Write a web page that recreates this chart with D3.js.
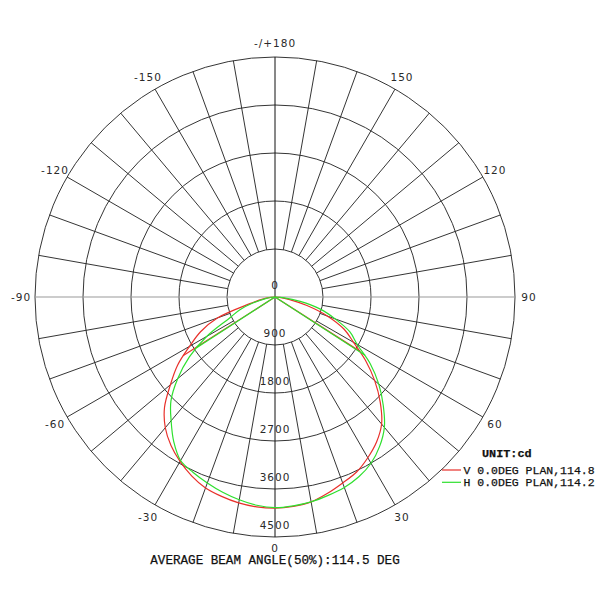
<!DOCTYPE html>
<html>
<head>
<meta charset="utf-8">
<script src="https://cdn.jsdelivr.net/npm/d3@7"></script>
<style>
  body { margin: 0; background: #fff; }
  svg { display: block; }
  .lbl { font-family: "DejaVu Sans", sans-serif; font-size: 10.5px; letter-spacing: 1px; fill: #2a2a2a; }
  .mono { font-family: "Liberation Mono", "DejaVu Sans Mono", monospace; fill: #111; stroke: #111; stroke-width: 0.25px; }
</style>
</head>
<body>
<div id="chart"></div>
<script>
// gamma angles (deg), 0 = straight down
const angles = [-90,-85,-80,-75,-70,-65,-60,-55,-50,-45,-40,-35,-30,-25,-20,-15,-10,-5,0,
                5,10,15,20,25,30,35,40,45,50,55,60,65,70,75,80,85,90];
// V 0.0DEG PLAN (cd)
const vValues = [0,80,250,500,1150,1540,1850,2230,2560,2930,3200,3400,3560,3700,3810,3870,3920,3950,3960,
                 3940,3900,3810,3710,3620,3480,3320,3110,2790,2440,2070,1700,1430,1050,620,280,90,0];
// H 0.0DEG PLAN (cd)
const hValues = [0,60,180,420,700,950,1480,1960,2380,2760,3030,3310,3540,3630,3710,3790,3860,3920,3950,
                 3930,3900,3850,3800,3720,3600,3420,3190,2870,2540,2180,1780,1550,1200,880,480,150,0];
const beamAngles = [114.8, 114.2];
const seriesNames = ["V 0.0DEG PLAN,114.8", "H 0.0DEG PLAN,114.2"];
const seriesColors = ["#e8302a", "#2ee02e"];
const ringValues = [0, 900, 1800, 2700, 3600, 4500];
const angleTicks = [-150,-120,-90,-60,-30,0,30,60,90,120,150,180];
const spokeAngles = d3.range(-170, 180, 10).filter(a => a % 90 !== 0);

const width = 600, height = 600;
const cx = 275, cy = 297;

const r = d3.scaleLinear().domain([0, 4500]).range([0, 240]);
const rad = d => d * Math.PI / 180;
// x = cx + r sin(t), y = cy + r cos(t)
const px = (a, v) => cx + r(v) * Math.sin(rad(a));
const py = (a, v) => cy + r(v) * Math.cos(rad(a));

const svg = d3.select("#chart").append("svg")
    .attr("width", width)
    .attr("height", height);

const grid = svg.append("g");

// rings
grid.selectAll(".ring")
    .data(ringValues.slice(1))
    .enter()
    .append("circle")
    .attr("cx", cx)
    .attr("cy", cy)
    .attr("r", d => r(d))
    .attr("fill", "none")
    .attr("stroke", "#2a2a2a")
    .attr("stroke-width", 0.95);

// spokes from first ring to the outer one
grid.selectAll(".spoke")
    .data(spokeAngles)
    .enter()
    .append("line")
    .attr("x1", d => px(d, 900))
    .attr("y1", d => py(d, 900))
    .attr("x2", d => px(d, 4500))
    .attr("y2", d => py(d, 4500))
    .attr("stroke", "#2a2a2a")
    .attr("stroke-width", 0.95);

// main axes
grid.append("line")
    .attr("x1", px(-90, 4500)).attr("y1", cy)
    .attr("x2", px(90, 4500)).attr("y2", cy)
    .attr("stroke", "#999")
    .attr("stroke-width", 1.2);
grid.append("line")
    .attr("x1", cx).attr("y1", py(180, 4500))
    .attr("x2", cx).attr("y2", py(0, 4500))
    .attr("stroke", "#111")
    .attr("stroke-width", 1);

// ring value labels
grid.selectAll(".rlbl")
    .data(ringValues)
    .enter()
    .append("text")
    .attr("class", "lbl")
    .attr("x", cx)
    .attr("y", d => cy + r(d) - 12.5)
    .attr("text-anchor", "middle")
    .attr("dominant-baseline", "central")
    .text(d => d);

// angle labels
grid.selectAll(".albl")
    .data(angleTicks)
    .enter()
    .append("text")
    .attr("class", "lbl")
    .attr("x", d => cx + 254 * Math.sin(rad(d)))
    .attr("y", d => cy + (d === 0 ? 251 : 254) * Math.cos(rad(d)))
    .attr("text-anchor", "middle")
    .attr("dominant-baseline", "central")
    .text(d => d === 180 ? "-/+180" : d);

// curves
const radial = d3.lineRadial()
    .angle(d => Math.PI - rad(d[0]))
    .radius(d => r(d[1]))
    .curve(d3.curveCatmullRom);

const series = [vValues, hValues];

series.forEach((vals, i) => {
    const pts = angles.map((a, j) => [a, vals[j]]);
    svg.append("path")
        .attr("transform", `translate(${cx},${cy})`)
        .attr("d", radial(pts))
        .attr("fill", "none")
        .attr("stroke", seriesColors[i])
        .attr("stroke-width", 1.2);

    // beam angle (50%) lines
    const half = beamAngles[i] / 2;
    const interp = d3.scaleLinear().domain(angles).range(vals);
    [-half, half].forEach(a => {
        svg.append("line")
            .attr("x1", cx).attr("y1", cy)
            .attr("x2", px(a, interp(a)))
            .attr("y2", py(a, interp(a)))
            .attr("stroke", seriesColors[i])
            .attr("stroke-width", 1.2);
    });
});

// legend
const legend = svg.append("g");
legend.append("text")
    .attr("class", "mono")
    .attr("x", 482)
    .attr("y", 457)
    .attr("font-size", "11.8px")
    .attr("font-weight", "bold")
    .text("UNIT:cd");

seriesNames.forEach((name, i) => {
    const y = 470 + i * 12.3;
    legend.append("line")
        .attr("x1", 442).attr("x2", 461)
        .attr("y1", y).attr("y2", y)
        .attr("stroke", seriesColors[i])
        .attr("stroke-width", 1.2);
    legend.append("text")
        .attr("class", "mono")
        .attr("x", 463.5)
        .attr("y", y + 4)
        .attr("font-size", "11.5px")
        .text(name);
});

svg.append("text")
    .attr("class", "mono")
    .attr("x", cx)
    .attr("y", 564)
    .attr("text-anchor", "middle")
    .attr("font-size", "12.6px")
    .text("AVERAGE BEAM ANGLE(50%):114.5 DEG");
</script>
</body>
</html>
